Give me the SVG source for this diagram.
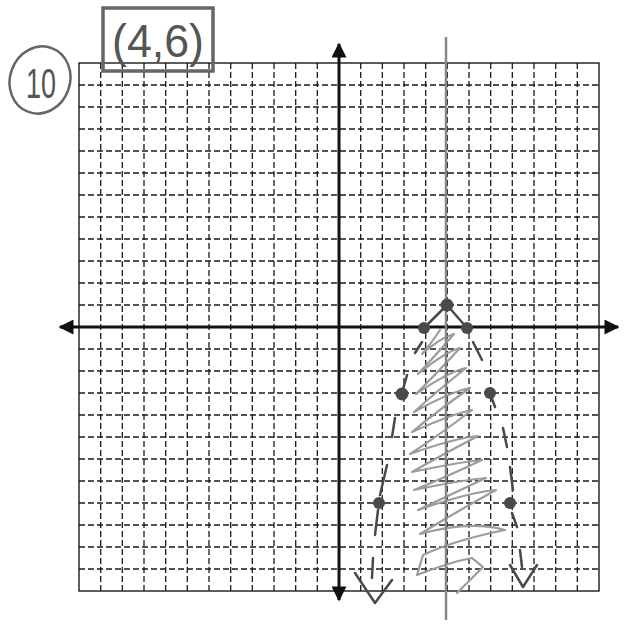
<svg xmlns="http://www.w3.org/2000/svg" width="627" height="625" viewBox="0 0 627 625">
<style>
.grid{stroke:#1a1a1a;stroke-width:1.3;stroke-dasharray:6 3;fill:none}
.border{stroke:#1a1a1a;stroke-width:1.4;fill:none}
.axis{stroke:#111;stroke-width:3;fill:none}
.hand{stroke:#4a4a4a;stroke-width:2.5;fill:none;stroke-linecap:round;stroke-linejoin:round}
.shade{stroke:#9c9c9c;stroke-width:2.2;fill:none;stroke-linecap:round;stroke-linejoin:round}
.pt{fill:#4a4a4a}
.txt{font-family:"Liberation Sans",Arial,sans-serif;fill:#555}
</style>
<defs>
<marker id="ah" viewBox="0 0 10 10" refX="9" refY="5" markerWidth="6" markerHeight="5" orient="auto-start-reverse" markerUnits="strokeWidth">
<path d="M0,0 L10,5 L0,10 z" fill="#111"/>
</marker>
</defs>
<rect width="627" height="625" fill="#fff"/>
<g id="grid">
<path class="grid" d="M79,85H599M79,107H599M79,129H599M79,151H599M79,173H599M79,195H599M79,217H599M79,239H599M79,261H599M79,283H599M79,305H599M79,349H599M79,371H599M79,393H599M79,415H599M79,437H599M79,459H599M79,481H599M79,503H599M79,525H599M79,547H599M79,569H599"/>
<path class="grid" d="M100.7,63V591M122.3,63V591M144,63V591M165.7,63V591M187.3,63V591M209,63V591M230.7,63V591M252.3,63V591M274,63V591M295.7,63V591M317.3,63V591M360.7,63V591M382.3,63V591M404,63V591M425.7,63V591M447.3,63V591M469,63V591M490.7,63V591M512.3,63V591M534,63V591M555.7,63V591M577.3,63V591"/>
<rect class="border" x="79" y="63" width="520" height="528"/>
</g>
<g id="connectors">
<line class="axis" x1="339" y1="600" x2="339" y2="44" marker-end="url(#ah)" marker-start="url(#ah)"/>
<line class="axis" x1="60" y1="327" x2="618" y2="327" marker-end="url(#ah)" marker-start="url(#ah)"/>
</g>
<g id="label-number">
<ellipse cx="40" cy="80" rx="30" ry="34" transform="rotate(20 40 80)" fill="none" stroke="#666" stroke-width="2.5"/>
<text class="txt" x="41" y="98" font-size="42" text-anchor="middle" textLength="30" lengthAdjust="spacingAndGlyphs">10</text>
</g>
<g id="answer-box">
<rect x="103" y="8" width="110" height="63" fill="none" stroke="#666" stroke-width="3.5"/>
<text class="txt" x="158" y="57" font-size="46" text-anchor="middle" textLength="92" lengthAdjust="spacingAndGlyphs">(4,6)</text>
</g>
<g id="shading">
<path class="shade" d="M440,330 Q430,345 422,354 Q440,338 454,334 Q435,356 418,374 Q445,352 460,348 Q436,374 416,394 Q448,372 466,368 Q436,392 414,412 Q450,392 470,388 Q436,412 412,432 Q452,414 472,410 Q438,436 410,454 Q455,438 478,436 Q440,456 412,472 Q460,462 482,460 Q444,478 414,490 Q462,480 486,478 Q448,496 418,510 Q470,492 496,490 Q456,512 420,534 Q470,520 505,530 Q455,540 423,555 L417,575 Q450,562 472,558 L483,567 L457,593"/>
</g>
<g id="axis-of-symmetry">
<line x1="446" y1="37" x2="446" y2="620" stroke="#888" stroke-width="2.5"/>
</g>
<g id="parabola">
<path class="hand" d="M424,328 L447,305 L467,328"/>
<path class="hand" d="M422,342 L415,353 M407,375 L402,393 M395,418 L392,437 M387,465 L380,495 M378,510 L375,535 M373,558 L372,578 M355,573 L375,603 L392,580"/>
<path class="hand" d="M473,342 L482,360 M490,393 L495,407 M503,428 L507,447 M510,467 L513,490 M512,513 L517,527 M520,550 L522,567 M510,565 L523,587 L537,565"/>
</g>
<g id="points">
<circle class="pt" cx="447" cy="305" r="6.5"/>
<circle class="pt" cx="424" cy="328" r="6"/>
<circle class="pt" cx="467" cy="328" r="6"/>
<circle class="pt" cx="402" cy="394" r="6.5"/>
<circle class="pt" cx="490" cy="393" r="6"/>
<circle class="pt" cx="379" cy="503" r="6"/>
<circle class="pt" cx="510" cy="503" r="6"/>
</g>
</svg>
